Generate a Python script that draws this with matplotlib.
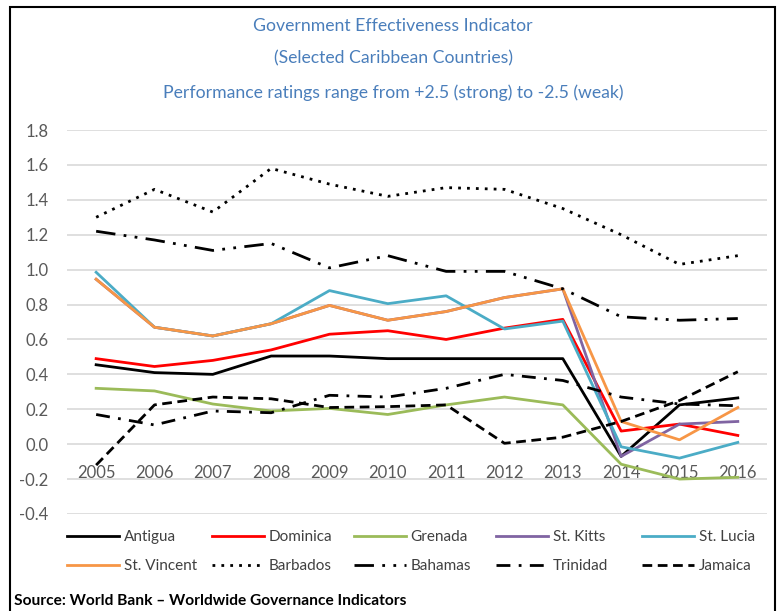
import matplotlib.pyplot as plt
from matplotlib.patches import Rectangle

years = ['2005', '2006', '2007', '2008', '2009', '2010', '2011', '2012', '2013', '2014', '2015', '2016']

antigua = [0.455, 0.41, 0.40, 0.505, 0.505, 0.49, 0.49, 0.49, 0.49, -0.07, 0.225, 0.265]
dominica = [0.49, 0.445, 0.48, 0.54, 0.63, 0.65, 0.60, 0.665, 0.715, 0.075, 0.115, 0.05]
grenada = [0.32, 0.305, 0.23, 0.19, 0.205, 0.17, 0.225, 0.27, 0.225, -0.115, -0.20, -0.19]
st_kitts = [0.945, 0.67, 0.62, 0.69, 0.795, 0.71, 0.76, 0.84, 0.89, -0.07, 0.115, 0.13]
st_lucia = [0.985, 0.67, 0.62, 0.69, 0.88, 0.805, 0.85, 0.66, 0.705, -0.015, -0.08, 0.01]
st_vincent = [0.945, 0.67, 0.62, 0.69, 0.795, 0.71, 0.76, 0.84, 0.89, 0.13, 0.025, 0.21]
barbados = [1.30, 1.46, 1.33, 1.58, 1.49, 1.42, 1.47, 1.46, 1.35, 1.20, 1.03, 1.08]
bahamas = [1.22, 1.17, 1.11, 1.15, 1.01, 1.08, 0.99, 0.99, 0.89, 0.73, 0.71, 0.72]
trinidad = [0.17, 0.11, 0.19, 0.18, 0.28, 0.27, 0.32, 0.40, 0.365, 0.27, 0.23, 0.22]
jamaica = [-0.12, 0.225, 0.27, 0.26, 0.21, 0.215, 0.225, 0.005, 0.04, 0.13, 0.25, 0.415]

plt.rcParams['font.family'] = ['Lato', 'DejaVu Sans']

fig = plt.figure(figsize=(7.77, 6.11), dpi=100)
ax = fig.add_axes([0.0862, 0.1588, 0.9009, 0.6284])

series = [
    ('Antigua', antigua, '#000000', '-'),
    ('Dominica', dominica, '#FF0000', '-'),
    ('Grenada', grenada, '#9BBB59', '-'),
    ('St. Kitts', st_kitts, '#8064A2', '-'),
    ('St. Lucia', st_lucia, '#4BACC6', '-'),
    ('St. Vincent', st_vincent, '#F79646', '-'),
    ('Barbados', barbados, '#000000', (0, (1, 2.2))),
    ('Bahamas', bahamas, '#000000', (0, (7, 3, 1, 3, 1, 3))),
    ('Trinidad', trinidad, '#000000', (0, (5, 3, 1, 3))),
    ('Jamaica', jamaica, '#000000', (0, (3.5, 2))),
]
x = list(range(len(years)))
lines = []
for name, vals, col, ls in series:
    ln, = ax.plot(x, vals, color=col, linestyle=ls, lw=2, label=name)
    lines.append(ln)

ax.set_xlim(-0.5, len(years) - 0.5)
ax.set_ylim(-0.4, 1.8)
ax.set_yticks([-0.4, -0.2, 0.0, 0.2, 0.4, 0.6, 0.8, 1.0, 1.2, 1.4, 1.6, 1.8])
ax.set_yticklabels(['-0.4', '-0.2', '0.0', '0.2', '0.4', '0.6', '0.8', '1.0', '1.2', '1.4', '1.6', '1.8'])
ax.set_xticks(x)
ax.set_xticklabels(years)
ax.grid(axis='y', color='#D9D9D9', lw=1.2)
ax.set_axisbelow(True)
for s in ax.spines.values():
    s.set_color('none')
ax.spines['bottom'].set_position(('data', 0))
ax.tick_params(axis='both', length=0, labelsize=12, labelcolor='#595959')
ax.tick_params(axis='y', pad=13.5)
ax.tick_params(axis='x', pad=15)

title_col = '#4A7EBB'
fig.text(0.506, 0.958, 'Government Effectiveness Indicator', ha='center', va='center',
         fontsize=12.7, color=title_col)
fig.text(0.506, 0.904, '(Selected Caribbean Countries)', ha='center', va='center',
         fontsize=12.7, color=title_col)
fig.text(0.506, 0.848, 'Performance ratings range from +2.5 (strong) to -2.5 (weak)', ha='center',
         va='center', fontsize=12.7, color=title_col)

# legend: one small legend per column so the columns are evenly spaced like Excel
col_x = [64, 209, 351, 493, 639]
for i in range(5):
    pair = [lines[i], lines[i + 5]]
    fig.legend(pair, [l.get_label() for l in pair], loc='upper left',
               bbox_to_anchor=(col_x[i] / 777, 1 - 527 / 611), frameon=False,
               handlelength=3.4, handletextpad=0.3, labelspacing=1.0,
               borderaxespad=0, borderpad=0.2, fontsize=11, labelcolor='#404040')

fig.text(0.018, 0.016, 'Source: World Bank \u2013 Worldwide Governance Indicators', ha='left',
         va='center', fontsize=11.2, fontweight='bold')

fig.patches.append(Rectangle((10 / 777, -0.01), 765 / 777, 1.0 - 7 / 611 + 0.01,
                             transform=fig.transFigure, fill=False, lw=1.5, ec='black'))

fig.savefig('out.png', dpi=100)
